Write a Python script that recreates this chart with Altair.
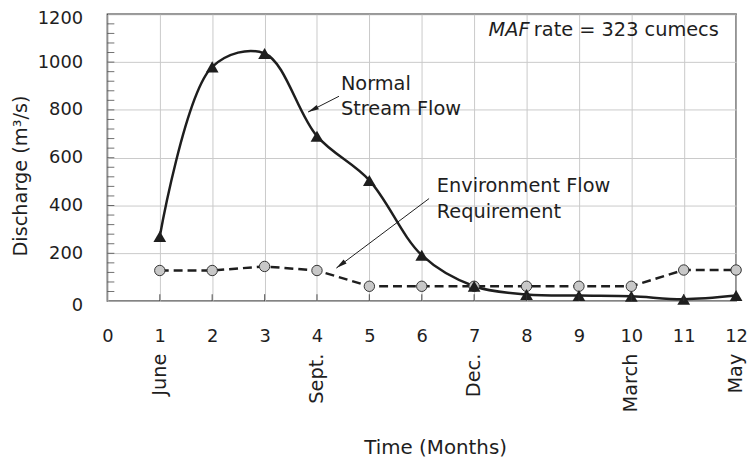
import math
import altair as alt
import pandas as pd

# ---------------- data ----------------
months = [1, 2, 3, 4, 5, 6, 7, 8, 9, 10, 11, 12]
normal_flow = [270, 980, 1036, 690, 505, 192, 62, 28, 23, 20, 8, 23]
env_flow = [128, 128, 145, 128, 62, 62, 62, 62, 62, 62, 130, 130]

x_tick_values = [0, 1, 2, 3, 4, 5, 6, 7, 8, 9, 10, 11, 12]
y_tick_values = [0, 200, 400, 600, 800, 1000, 1200]
x_inner_ticks = [1, 2, 3, 4, 5, 6, 7, 8, 9, 10, 11]
y_minor_ticks = list(range(40, 1200, 40))

month_names = ["June", "Sept.", "Dec.", "March", "May"]
month_name_pos = [1, 4, 7, 10, 12]

label_text = ["Normal", "Stream Flow", "Environment Flow", "Requirement"]
label_x = [4.457, 4.457, 6.287, 6.287]
label_y = [907, 803, 480, 373]

maf_text = ["MAF", "rate = 323 cumecs"]
maf_x = [7.276, 8.14]
maf_y = [1135, 1135]
maf_style = ["italic", "normal"]

arrow_x = [4.42, 6.14]
arrow_y = [857, 429]
arrow_x2 = [3.83, 4.37]
arrow_y2 = [791, 138]

# ---------------- layout ----------------
W = 634.4
H = 289.4
FONT = "DejaVu Sans"
INK = "#1e1e1e"
GRID = "#c9c9c9"

xs = alt.Scale(domain=[0, 12], nice=False, zero=False)
ys = alt.Scale(domain=[0, 1200], nice=False, zero=False)

x_axis = alt.Axis(
    values=x_tick_values, title="Time (Months)", grid=True, gridColor=GRID,
    gridWidth=1, ticks=False, domain=False, labelPadding=36,
    labelBaseline="middle", labelFlush=False, labelOverlap=False,
    labelFont=FONT, labelFontSize=18, labelColor=INK,
    titleFont=FONT, titleFontSize=20, titleFontWeight="normal", titleColor=INK,
    titleX=330.7, titleY=148, titleBaseline="middle", titleAlign="center",
)
y_axis = alt.Axis(
    values=y_tick_values, format="d", title="Discharge (m³/s)", grid=True,
    gridColor=GRID, gridWidth=1, ticks=False, domain=False, labelPadding=25,
    labelFlush=False, labelOverlap=False,
    labelOffset={"condition": {"test": "datum.value == 1200 || datum.value == 0",
                               "value": 4}, "value": 0},
    labelFont=FONT, labelFontSize=18, labelColor=INK,
    titleFont=FONT, titleFontSize=19.5, titleFontWeight="normal", titleColor=INK,
    titleAngle=270, titleX=-87.3, titleY=162.7, titleBaseline="middle",
    titleAlign="center",
)


def X(field):
    return alt.X(field, scale=xs, axis=x_axis)


def Y(field):
    return alt.Y(field, scale=ys, axis=y_axis)


df_n = pd.DataFrame({"month": months, "flow": normal_flow})
df_e = pd.DataFrame({"month": months, "flow": env_flow})

base_line = alt.Chart(df_n).mark_line(
    interpolate="catmull-rom", color=INK, strokeWidth=2.5
).encode(x=X("month:Q"), y=Y("flow:Q"))

tri = alt.Chart(df_n).mark_point(
    shape="triangle-up", filled=True, color=INK, size=165, opacity=1
).encode(x=X("month:Q"), y=Y("flow:Q"))

env_line = alt.Chart(df_e).mark_line(
    color=INK, strokeWidth=2.5, strokeDash=[9, 5]
).encode(x=X("month:Q"), y=Y("flow:Q"))

circ = alt.Chart(df_e).mark_point(
    shape="circle", filled=True, fill="#c8c8c8", stroke="#333333",
    strokeWidth=1, size=110, opacity=1
).encode(x=X("month:Q"), y=Y("flow:Q"))

# inward tick marks
xt = alt.Chart(pd.DataFrame({"month": x_inner_ticks})).mark_tick(
    color="#333333", thickness=1.2, size=7, orient="vertical"
).encode(x=X("month:Q"), y=alt.value(H - 3.5))

yt = alt.Chart(pd.DataFrame({"flow": y_minor_ticks})).mark_tick(
    color="#333333", thickness=1, size=7, orient="horizontal"
).encode(y=Y("flow:Q"), x=alt.value(3.5))

# month names under the axis
mn = alt.Chart(pd.DataFrame({"month": month_name_pos, "name": month_names})).mark_text(
    angle=270, align="right", baseline="middle", font=FONT, fontSize=19.5,
    color=INK,
).encode(x=X("month:Q"), y=alt.value(H + 53), text="name:N")

# annotation labels
lab = alt.Chart(pd.DataFrame({"month": label_x, "flow": label_y, "t": label_text})).mark_text(
    align="left", baseline="middle", font=FONT, fontSize=19.5, color=INK
).encode(x=X("month:Q"), y=Y("flow:Q"), text="t:N")

df_maf = pd.DataFrame({"month": maf_x, "flow": maf_y, "t": maf_text, "s": maf_style})
maf_it = alt.Chart(df_maf).transform_filter(alt.datum.s == "italic").mark_text(
    align="left", baseline="middle", font=FONT, fontSize=19.5, color=INK,
    fontStyle="italic"
).encode(x=X("month:Q"), y=Y("flow:Q"), text="t:N")
maf_rm = alt.Chart(df_maf).transform_filter(alt.datum.s == "normal").mark_text(
    align="left", baseline="middle", font=FONT, fontSize=19.5, color=INK
).encode(x=X("month:Q"), y=Y("flow:Q"), text="t:N")

# arrows
px_per_x = W / 12.0
px_per_y = H / 1200.0
angles = []
for x1, y1, x2, y2 in zip(arrow_x, arrow_y, arrow_x2, arrow_y2):
    dx = (x2 - x1) * px_per_x
    dy = -(y2 - y1) * px_per_y
    angles.append(math.degrees(math.atan2(dx, -dy)) % 360)

df_arrow = pd.DataFrame({"month": arrow_x, "flow": arrow_y, "month2": arrow_x2,
                         "flow2": arrow_y2})
arr_line = alt.Chart(df_arrow).mark_rule(color=INK, strokeWidth=1).encode(
    x=X("month:Q"), y=Y("flow:Q"), x2="month2:Q", y2="flow2:Q",
)
df_head = pd.DataFrame({"month": arrow_x2, "flow": arrow_y2, "ang": angles})
arr_head = alt.Chart(df_head).mark_point(
    shape="M0,0L0.45,2L-0.45,2Z", filled=True, color=INK, size=121, opacity=1
).encode(
    x=X("month:Q"), y=Y("flow:Q"),
    angle=alt.Angle("ang:Q", scale=None),
)

chart = alt.layer(
    base_line, env_line, circ, tri, xt, yt, mn, lab, maf_it, maf_rm,
    arr_line, arr_head,
).properties(
    width=W, height=H, autosize="none", background="white",
    padding={"left": 100.3, "top": 4.3, "right": 12, "bottom": 160},
).configure_view(
    stroke="#333333", strokeWidth=1.5
)

chart.save("out.html", embed_options={"renderer": "svg", "actions": False})
